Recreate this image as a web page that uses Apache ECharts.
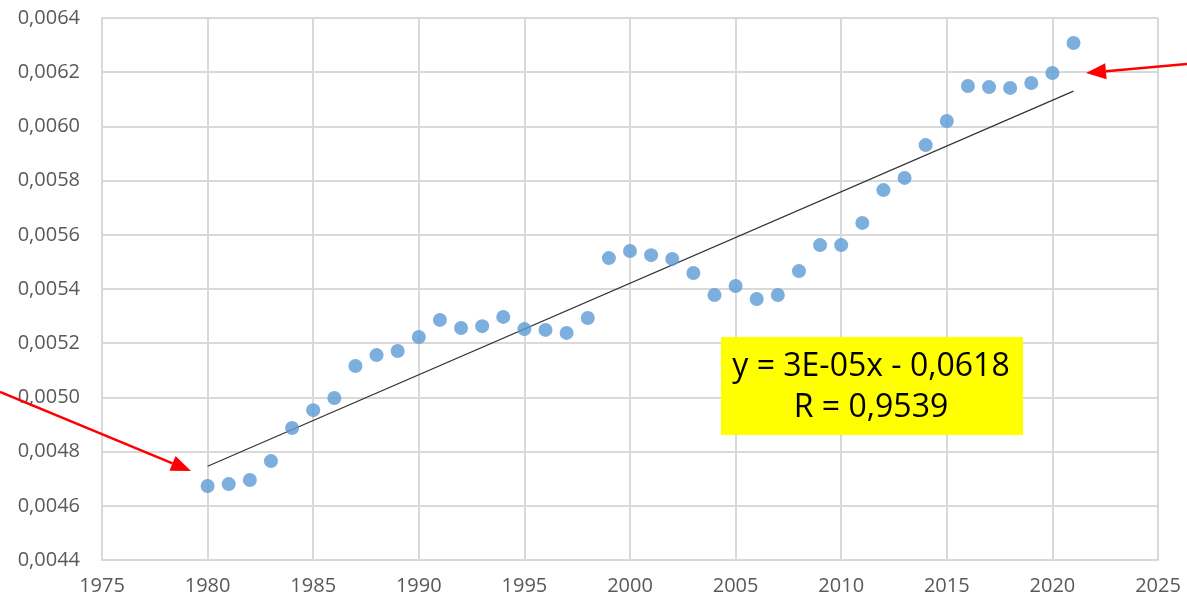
<!DOCTYPE html>
<html>
<head>
<meta charset="utf-8">
<script src="https://cdn.jsdelivr.net/npm/echarts@6/dist/echarts.min.js"></script>
<style>html,body{margin:0;padding:0;background:#fff}#c{width:1187px;height:607px}</style>
</head>
<body>
<div id="c"></div>
<script>
const years = [1980,1981,1982,1983,1984,1985,1986,1987,1988,1989,1990,1991,1992,1993,1994,1995,1996,1997,1998,1999,2000,2001,2002,2003,2004,2005,2006,2007,2008,2009,2010,2011,2012,2013,2014,2015,2016,2017,2018,2019,2020,2021];
const values = [0.004673,0.004680,0.004695,0.004765,0.004887,0.004953,0.004998,0.005116,0.005156,0.005171,0.005223,0.005286,0.005256,0.005263,0.005297,0.005252,0.005249,0.005238,0.005293,0.005514,0.005540,0.005525,0.005511,0.005459,0.005378,0.005411,0.005363,0.005378,0.005466,0.005562,0.005562,0.005644,0.005765,0.005810,0.005931,0.006020,0.006149,0.006145,0.006142,0.006160,0.006197,0.006308];
const equationText = 'y = 3E-05x - 0,0618';
const rText = 'R = 0,9539';

// least squares trend
const n = years.length;
let sx=0, sy=0, sxx=0, sxy=0;
for (let i=0;i<n;i++){sx+=years[i];sy+=values[i];sxx+=years[i]*years[i];sxy+=years[i]*values[i];}
const slope = (n*sxy - sx*sy)/(n*sxx - sx*sx);
const intercept = (sy - slope*sx)/n;
const trend = [[years[0], slope*years[0]+intercept],[years[n-1], slope*years[n-1]+intercept]];

const chart = echarts.init(document.getElementById('c'));
const font = 'Open Sans';
function arrow(x1,y1,x2,y2){
  const ang = Math.atan2(y2-y1,x2-x1);
  const L=20, W=8;
  const bx = x2 - L*Math.cos(ang), by = y2 - L*Math.sin(ang);
  const px = -Math.sin(ang), py = Math.cos(ang);
  return [
    {type:'line', shape:{x1:x1,y1:y1,x2:bx,y2:by}, style:{stroke:'#ff0000', lineWidth:2.5}, z:100},
    {type:'polygon', shape:{points:[[x2,y2],[bx+px*W,by+py*W],[bx-px*W,by-py*W]]}, style:{fill:'#ff0000'}, z:100}
  ];
}
chart.setOption({
  animation:false,
  grid:{left:102,right:29,top:18,bottom:47},
  xAxis:{type:'value',min:1975,max:2025,interval:5,
    axisLine:{show:true,lineStyle:{color:'#d9d9d9',width:2}},
    axisTick:{show:false},
    splitLine:{show:true,lineStyle:{color:'#d9d9d9',width:2}},
    axisLabel:{color:'#595959',fontSize:20,fontFamily:font,margin:16,formatter:v=>String(v)}},
  yAxis:{type:'value',min:0.0044,max:0.0064,interval:0.0002,
    axisLine:{show:true,lineStyle:{color:'#d9d9d9',width:2}},
    axisTick:{show:false},
    splitLine:{show:true,lineStyle:{color:'#d9d9d9',width:2}},
    axisLabel:{color:'#595959',fontSize:20,fontFamily:font,margin:22,
      formatter:v=>v.toFixed(4).replace('.',',')}},
  series:[
    {type:'line',data:trend,symbol:'none',lineStyle:{color:'#333333',width:1.2},z:2},
    {type:'scatter',data:years.map((y,i)=>[y,values[i]]),symbol:'circle',symbolSize:14,
      itemStyle:{color:'#5b9bd5'},z:3}
  ],
  graphic:[
    {type:'rect',shape:{x:721,y:337,width:302,height:98},style:{fill:'#ffff00'},z:50},
    {type:'text',x:871,y:367,style:{text:equationText,font:'32px "Open Sans"',fill:'#000',align:'center',verticalAlign:'middle'},z:51},
    {type:'text',x:871,y:408,style:{text:rText,font:'32px "Open Sans"',fill:'#000',align:'center',verticalAlign:'middle'},z:51},
    ...arrow(0,392,191,471),
    ...arrow(1187,64,1086,73)
  ]
});
</script>
</body>
</html>
